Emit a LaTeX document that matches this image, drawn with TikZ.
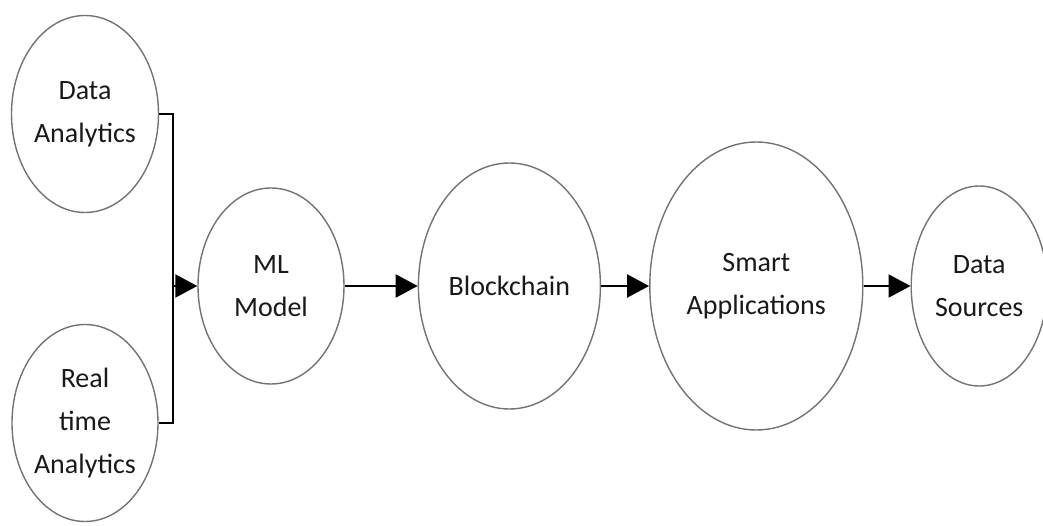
\documentclass[tikz,border=0pt]{standalone}
\usepackage{fontspec}
\setmainfont{Carlito}
\usepackage{tikz}
\usetikzlibrary{arrows.meta}
\usetikzlibrary{positioning}
\usetikzlibrary{shapes.geometric}

\begin{document}
\begin{tikzpicture}[
    x=0.5pt, y=0.5pt,
    every node/.style={draw=black!55, line width=0.7pt, ellipse, inner sep=0pt, align=center,
        text=black!90, font=\fontsize{14pt}{21.5pt}\selectfont},
    link/.style={draw, line width=1pt, -{Triangle[length=11pt, width=11.5pt]}}
]
    \useasboundingbox (0,0) rectangle (1043,525);

    % Inputs on the left
    \node[minimum width=73.5pt, minimum height=98.5pt] (da) at (85, 411) {Data\\Analytics};
    \node[minimum width=73pt, minimum height=98.5pt] (rt) at (85, 102) {Real\\time\\Analytics};

    % Main chain
    \node[minimum width=73pt, minimum height=98pt] (ml) at (271, 239) {ML\\Model};
    \node[minimum width=91pt, minimum height=123pt, right=36.5pt of ml] (bc) {Blockchain};
    \node[minimum width=106.5pt, minimum height=144pt, right=24pt of bc] (sa) {Smart\\Applications};
    \node[minimum width=68pt, minimum height=100pt, right=23.5pt of sa] (ds) {Data\\Sources};

    % Bracket joining both inputs
    \coordinate (join) at (173, 239);
    \draw[line width=1pt] (da.east) -| (join) |- (rt.east);
    \draw[link] (join) -- (ml);

    \draw[link] (ml) -- (bc);
    \draw[link] (bc) -- (sa);
    \draw[link] (sa) -- (ds);

\end{tikzpicture}
\end{document}
